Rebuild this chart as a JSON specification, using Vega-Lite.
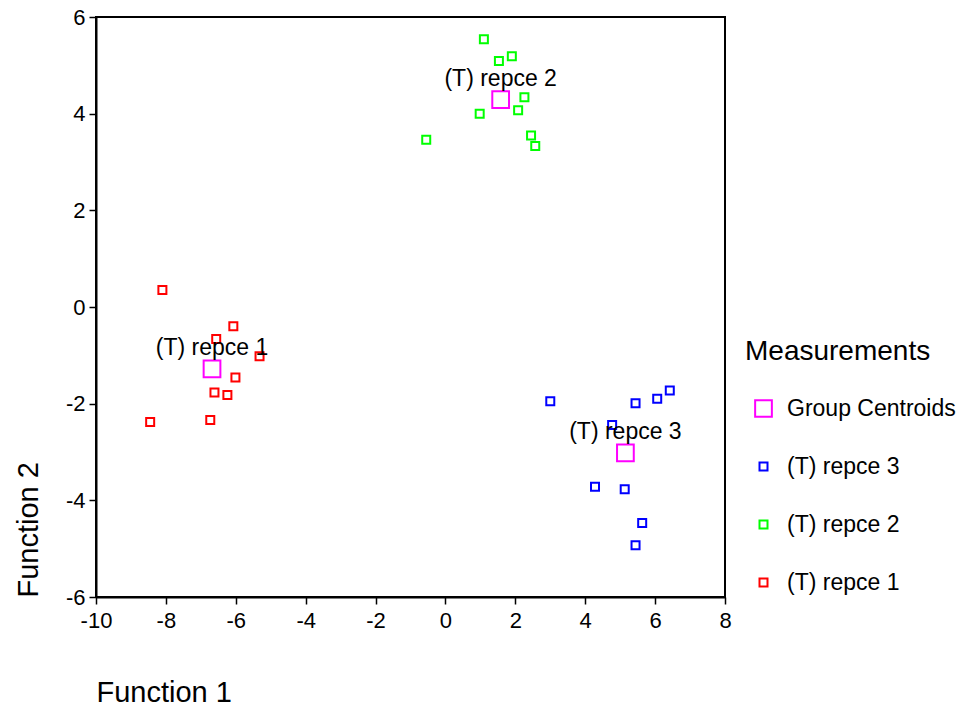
{
  "$schema": "https://vega.github.io/schema/vega-lite/v6.json",
  "width": 629,
  "height": 580,
  "autosize": {"type": "none"},
  "padding": {"left": 96, "top": 17, "right": 237, "bottom": 111},
  "background": "white",
  "config": {
    "font": "Liberation Sans",
    "view": {"stroke": "black", "strokeWidth": 2},
    "axis": {
      "domainColor": "black",
      "domainWidth": 2,
      "tickColor": "black",
      "tickWidth": 1.5,
      "tickSize": 7,
      "grid": false,
      "labelFont": "Liberation Sans",
      "labelFontSize": 22,
      "labelColor": "black",
      "titleFont": "Liberation Sans",
      "titleFontSize": 29,
      "titleFontWeight": "normal",
      "titleColor": "black",
      "labelExpr": "replace(datum.label, '\u2212', '-')"
    },
    "legend": {
      "titleFont": "Liberation Sans",
      "titleFontSize": 28,
      "titleFontWeight": "normal",
      "titleColor": "black",
      "titleLimit": 400,
      "labelFont": "Liberation Sans",
      "labelFontSize": 23,
      "labelColor": "black",
      "labelLimit": 400
    }
  },
  "data": {
    "values": [
      {"x": -8.10, "y": 0.35, "series": "(T) repce 1"},
      {"x": -6.07, "y": -0.40, "series": "(T) repce 1"},
      {"x": -6.56, "y": -0.66, "series": "(T) repce 1"},
      {"x": -5.32, "y": -1.02, "series": "(T) repce 1"},
      {"x": -6.01, "y": -1.46, "series": "(T) repce 1"},
      {"x": -6.61, "y": -1.77, "series": "(T) repce 1"},
      {"x": -6.24, "y": -1.82, "series": "(T) repce 1"},
      {"x": -8.45, "y": -2.38, "series": "(T) repce 1"},
      {"x": -6.73, "y": -2.34, "series": "(T) repce 1"},
      {"x": 1.10, "y": 5.54, "series": "(T) repce 2"},
      {"x": 1.53, "y": 5.09, "series": "(T) repce 2"},
      {"x": 1.90, "y": 5.19, "series": "(T) repce 2"},
      {"x": 2.26, "y": 4.34, "series": "(T) repce 2"},
      {"x": 2.08, "y": 4.07, "series": "(T) repce 2"},
      {"x": 0.98, "y": 4.00, "series": "(T) repce 2"},
      {"x": -0.55, "y": 3.46, "series": "(T) repce 2"},
      {"x": 2.45, "y": 3.55, "series": "(T) repce 2"},
      {"x": 2.57, "y": 3.33, "series": "(T) repce 2"},
      {"x": 3.00, "y": -1.95, "series": "(T) repce 3"},
      {"x": 5.44, "y": -1.99, "series": "(T) repce 3"},
      {"x": 6.06, "y": -1.90, "series": "(T) repce 3"},
      {"x": 6.42, "y": -1.73, "series": "(T) repce 3"},
      {"x": 4.77, "y": -2.44, "series": "(T) repce 3"},
      {"x": 4.28, "y": -3.72, "series": "(T) repce 3"},
      {"x": 5.13, "y": -3.77, "series": "(T) repce 3"},
      {"x": 5.63, "y": -4.47, "series": "(T) repce 3"},
      {"x": 5.44, "y": -4.93, "series": "(T) repce 3"},
      {"x": -6.68, "y": -1.28, "series": "Group Centroids", "label": "(T) repce 1"},
      {"x": 1.58, "y": 4.29, "series": "Group Centroids", "label": "(T) repce 2"},
      {"x": 5.15, "y": -3.02, "series": "Group Centroids", "label": "(T) repce 3"}
    ]
  },
  "encoding": {
    "x": {
      "field": "x",
      "type": "quantitative",
      "scale": {"domain": [-10, 8], "nice": false, "zero": false},
      "axis": {
        "values": [-10, -8, -6, -4, -2, 0, 2, 4, 6, 8],
        "title": "Function 1",
        "titleAnchor": "start",
        "titleAlign": "left",
        "titlePadding": 47,
        "labelPadding": 6,
        "labelFlush": false
      }
    },
    "y": {
      "field": "y",
      "type": "quantitative",
      "scale": {"domain": [-6, 6], "nice": false, "zero": false},
      "axis": {
        "values": [-6, -4, -2, 0, 2, 4, 6],
        "title": "Function 2",
        "titleAnchor": "start",
        "titlePadding": 22,
        "labelPadding": 4,
        "labelFlush": false
      }
    }
  },
  "layer": [
    {
      "mark": {"type": "point", "shape": "square", "filled": false, "strokeWidth": 2, "opacity": 1},
      "encoding": {
        "color": {
          "field": "series",
          "type": "nominal",
          "scale": {
            "domain": ["Group Centroids", "(T) repce 3", "(T) repce 2", "(T) repce 1"],
            "range": ["#ff00ff", "#0000ff", "#00ff00", "#ff0000"]
          },
          "legend": {
            "title": "Measurements",
            "orient": "none",
            "legendX": 649,
            "legendY": 321,
            "titlePadding": 31,
            "rowPadding": 34,
            "symbolOffset": 7,
            "labelOffset": 12,
            "symbolStrokeWidth": 2
          }
        },
        "size": {
          "field": "series",
          "type": "nominal",
          "scale": {
            "type": "ordinal",
            "domain": ["Group Centroids", "(T) repce 3", "(T) repce 2", "(T) repce 1"],
            "range": [280, 64, 64, 64]
          },
          "legend": {
            "title": "Measurements",
            "orient": "none",
            "legendX": 649,
            "legendY": 321,
            "titlePadding": 31,
            "rowPadding": 34,
            "symbolOffset": 7,
            "labelOffset": 12,
            "symbolStrokeWidth": 2
          }
        }
      }
    },
    {
      "transform": [{"filter": "datum.series === 'Group Centroids'"}],
      "mark": {"type": "text", "fontSize": 23, "font": "Liberation Sans", "color": "black", "dy": -14, "baseline": "alphabetic", "align": "center"},
      "encoding": {"text": {"field": "label"}}
    }
  ]
}
